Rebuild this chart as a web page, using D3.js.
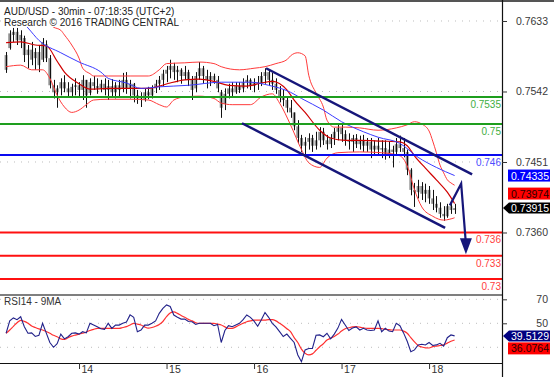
<!DOCTYPE html>
<html><head><meta charset="utf-8">
<script src="https://cdn.jsdelivr.net/npm/d3@7"></script>
<style>
body{margin:0;background:#fff;}
svg{display:block;font-family:"Liberation Sans",Arial,sans-serif;}
</style></head><body>
<svg id="c" width="554" height="377"></svg>
<script>
// ---------- DATA ----------
const title1 = "AUD/USD - 30min - 07:18:35 (UTC+2)";
const title2 = "Research \u00a9 2016 TRADING CENTRAL";
const rsiTitle = "RSI14 - 9MA";
const dayLabels = ["14","15","16","17","18"];
const dayStartIdx = [20,44,68,92,116];
const priceTicks = [0.7633, 0.7542, 0.7451, 0.7360];
const rsiTicks = [70, 50];
const rsiGrid = [70, 50, 30];

const open = [0.7570,0.7598,0.7615,0.7619,0.7608,0.7611,0.7589,0.7596,0.7585,0.7593,
0.7583,0.7603,0.7585,0.7550,0.7541,0.7546,0.7554,0.7546,0.7541,0.7548,
0.7550,0.7544,0.7557,0.7540,0.7554,0.7549,0.7546,0.7552,0.7544,0.7549,
0.7541,0.7550,0.7546,0.7557,0.7546,0.7552,0.7537,0.7533,0.7531,0.7541,
0.7537,0.7546,0.7552,0.7557,0.7565,0.7570,0.7575,0.7567,0.7570,0.7562,
0.7567,0.7557,0.7546,0.7562,0.7572,0.7562,0.7557,0.7562,0.7557,0.7541,
0.7526,0.7539,0.7546,0.7541,0.7549,0.7546,0.7554,0.7557,0.7549,0.7554,
0.7552,0.7562,0.7567,0.7557,0.7552,0.7544,0.7536,0.7531,0.7521,0.7515,
0.7497,0.7482,0.7472,0.7477,0.7482,0.7472,0.7479,0.7490,0.7479,0.7474,
0.7482,0.7490,0.7495,0.7487,0.7479,0.7477,0.7482,0.7474,0.7479,0.7472,
0.7477,0.7467,0.7472,0.7467,0.7469,0.7461,0.7467,0.7464,0.7474,0.7469,
0.7464,0.7441,0.7415,0.7412,0.7420,0.7410,0.7415,0.7404,0.7397,0.7392,
0.7384,0.7381,0.7394,0.7389];
const high = [0.7593,0.7621,0.7624,0.7624,0.7621,0.7614,0.7602,0.7606,0.7598,0.7602,
0.7611,0.7608,0.7589,0.7557,0.7550,0.7559,0.7563,0.7554,0.7552,0.7559,
0.7554,0.7563,0.7557,0.7559,0.7562,0.7559,0.7557,0.7559,0.7557,0.7558,
0.7554,0.7557,0.7566,0.7567,0.7557,0.7553,0.7544,0.7541,0.7546,0.7548,
0.7550,0.7557,0.7562,0.7570,0.7575,0.7583,0.7579,0.7575,0.7572,0.7575,
0.7570,0.7562,0.7567,0.7580,0.7575,0.7570,0.7567,0.7565,0.7562,0.7544,
0.7546,0.7552,0.7554,0.7554,0.7554,0.7559,0.7563,0.7559,0.7559,0.7562,
0.7567,0.7572,0.7570,0.7566,0.7559,0.7549,0.7544,0.7536,0.7531,0.7515,
0.7505,0.7486,0.7483,0.7488,0.7486,0.7490,0.7496,0.7495,0.7486,0.7487,
0.7495,0.7500,0.7499,0.7492,0.7488,0.7486,0.7487,0.7485,0.7486,0.7482,
0.7482,0.7479,0.7482,0.7479,0.7479,0.7477,0.7472,0.7482,0.7485,0.7482,
0.7467,0.7443,0.7424,0.7428,0.7425,0.7423,0.7420,0.7415,0.7407,0.7399,
0.7394,0.7397,0.7399,0.7397];
const low = [0.7566,0.7596,0.7606,0.7602,0.7598,0.7580,0.7572,0.7576,0.7570,0.7567,
0.7580,0.7580,0.7546,0.7533,0.7521,0.7537,0.7541,0.7536,0.7535,0.7537,
0.7535,0.7531,0.7521,0.7537,0.7544,0.7539,0.7541,0.7537,0.7531,0.7535,
0.7533,0.7536,0.7541,0.7539,0.7533,0.7528,0.7526,0.7522,0.7529,0.7532,
0.7533,0.7540,0.7544,0.7549,0.7554,0.7559,0.7557,0.7554,0.7552,0.7557,
0.7549,0.7531,0.7541,0.7557,0.7552,0.7546,0.7549,0.7552,0.7541,0.7508,
0.7518,0.7533,0.7536,0.7539,0.7540,0.7541,0.7546,0.7544,0.7541,0.7544,
0.7549,0.7552,0.7549,0.7544,0.7539,0.7528,0.7523,0.7515,0.7508,0.7492,
0.7475,0.7464,0.7460,0.7467,0.7464,0.7467,0.7470,0.7473,0.7467,0.7469,
0.7473,0.7479,0.7477,0.7472,0.7467,0.7464,0.7469,0.7467,0.7464,0.7464,
0.7456,0.7459,0.7460,0.7456,0.7454,0.7456,0.7444,0.7460,0.7464,0.7457,
0.7434,0.7408,0.7393,0.7404,0.7402,0.7399,0.7397,0.7389,0.7386,0.7379,
0.7375,0.7379,0.7384,0.7384];
const close = [0.7589,0.7617,0.7619,0.7608,0.7615,0.7589,0.7596,0.7583,0.7593,0.7576,
0.7606,0.7585,0.7550,0.7541,0.7546,0.7554,0.7546,0.7541,0.7548,0.7550,
0.7544,0.7557,0.7537,0.7554,0.7549,0.7546,0.7552,0.7544,0.7549,0.7541,
0.7550,0.7544,0.7557,0.7546,0.7552,0.7537,0.7533,0.7531,0.7541,0.7537,
0.7546,0.7552,0.7557,0.7565,0.7570,0.7575,0.7567,0.7570,0.7562,0.7567,
0.7557,0.7544,0.7562,0.7572,0.7562,0.7557,0.7562,0.7557,0.7546,0.7521,
0.7539,0.7546,0.7541,0.7549,0.7544,0.7554,0.7557,0.7549,0.7554,0.7552,
0.7562,0.7567,0.7557,0.7552,0.7544,0.7536,0.7531,0.7521,0.7515,0.7497,
0.7482,0.7472,0.7477,0.7482,0.7472,0.7479,0.7490,0.7479,0.7474,0.7482,
0.7490,0.7495,0.7487,0.7479,0.7477,0.7482,0.7474,0.7479,0.7472,0.7477,
0.7467,0.7472,0.7467,0.7469,0.7461,0.7467,0.7464,0.7474,0.7469,0.7464,
0.7441,0.7415,0.7412,0.7420,0.7410,0.7415,0.7404,0.7397,0.7392,0.7384,
0.7381,0.7394,0.7389,0.73915];

// [bar index, price]
const maLine = [[4,0.7634],[6,0.7624],[9,0.7608],[15,0.7592],[20,0.7580],[26,0.7567],[28,0.7559],[33,0.7553],[37,0.7546],[42,0.7548],[50,0.7550],[59,0.7554],[67,0.7554],[72,0.7550],[78,0.7541],[81,0.7533],[87,0.7518],[92,0.7503],[98,0.7490],[102,0.7483],[108,0.7475],[113,0.7457],[118,0.7444],[123,0.74335]];
const bbUpper = [[0,0.7634],[4,0.7636],[8,0.7634],[11,0.7632],[13,0.7625],[15,0.7621],[16,0.7615],[18,0.7602],[20,0.7585],[21,0.7572],[23,0.7565],[24,0.7562],[28,0.7562],[34,0.7562],[39,0.7562],[42,0.7570],[44,0.7578],[49,0.7579],[53,0.7580],[57,0.7578],[59,0.7574],[64,0.7570],[68,0.7572],[71,0.7574],[74,0.7578],[77,0.7583],[78,0.7588],[80,0.7592],[82,0.7588],[83,0.7563],[85,0.7540],[87,0.7522],[88,0.7505],[90,0.7496],[93,0.7496],[97,0.7495],[102,0.7492],[107,0.7495],[110,0.7499],[112,0.7503],[114,0.7500],[116,0.7491],[117,0.7478],[118,0.7463],[119,0.7447],[120,0.7437],[121,0.7428],[122,0.7424],[123,0.7421]];
const bbMiddle = [[0,0.7605],[4,0.7606],[8,0.7602],[11,0.7601],[14,0.7581],[16,0.7567],[20,0.7552],[23,0.7545],[28,0.7546],[34,0.7546],[39,0.7546],[42,0.7549],[45,0.7553],[49,0.7557],[53,0.7558],[57,0.7555],[61,0.7550],[66,0.7549],[70,0.7553],[73,0.7555],[77,0.7544],[79,0.7531],[82,0.7515],[86,0.7492],[89,0.7482],[93,0.7479],[97,0.7479],[103,0.7478],[108,0.7477],[110,0.7472],[112,0.7459],[115,0.7443],[118,0.7428],[121,0.7412],[123,0.73974]];
const bbLower = [[0,0.7574],[4,0.7576],[7,0.7570],[10,0.7570],[12,0.7559],[14,0.7537],[16,0.7522],[18,0.7515],[20,0.7518],[22,0.7525],[24,0.7531],[28,0.7532],[34,0.7532],[39,0.7531],[42,0.7525],[44,0.7522],[46,0.7531],[49,0.7535],[53,0.7536],[57,0.7533],[59,0.7527],[62,0.7525],[67,0.7525],[70,0.7535],[73,0.7539],[75,0.7527],[78,0.7499],[81,0.7467],[83,0.7450],[86,0.7444],[88,0.7456],[91,0.7463],[97,0.7464],[103,0.7463],[108,0.7459],[110,0.7446],[112,0.7415],[114,0.7393],[117,0.7381],[120,0.7376],[123,0.7379]];

const levelValues = [0.7535, 0.75, 0.746, 0.736, 0.733, 0.73];
const levelLabels = ["0.7535","0.75","0.746","0.736","0.733","0.73"];
const levelKinds = ["res","res","pivot","sup","sup","sup"];

const channelUpper = [[71.3,0.7572],[127.8,0.7435]];
const channelLower = [[64.7,0.7501],[120.4,0.7366]];
const arrowPath = [[121.7,0.7395],[124.8,0.7423],[126.1,0.7332]];

const rsi = [41.7,52,54.5,53,55.5,47.2,41.7,42,39,40,
50,42,34,30,33,41,37,38.8,41.7,42,
41,43,42,50,48.6,47.2,45.5,45,50,45.8,
48.6,48.5,50,51,57,55,43,44.4,48.5,48.5,
50,52,58.3,62.5,65.3,64,56.9,55,53.5,53.5,
51.5,51.3,49,50,50,50,50,48,49,34,
44,48,47.2,48.6,50,53,56.9,55,51.8,47.5,
53,59,55,50,47,43,39,41,37.5,34,
23.6,18,27.8,29,29,40,40.3,38.8,41.7,37,
41,46,53.3,48.6,44,46,47,44.4,45.8,44.4,
44,44.4,52,43,45.8,43.5,43,50,48,42,
35,26.3,27.8,32,32.5,31.9,34,31.5,32,33.3,
31,38,40.3,39.5129];
const rsiMa = [41.7,44.4,47.5,50.5,52.5,51.6,50,47.8,46.5,45.3,
44.4,43.2,41.7,40,38.8,37,36.5,38,39.3,40.2,
41,41.7,42.8,44,45,45.8,45.8,45.8,45.8,45.8,
45.8,45.8,46.5,47.2,48.6,50,49.3,48.6,47,46,
46.5,47.5,49,51.5,55.5,58.5,59.5,58.3,56.5,55,
53.3,52,50.5,50,50,50,50,50,49.3,48.6,
47,45.8,45.8,47,48.6,50,51.3,52,52.7,52.7,
52.7,52.7,53,53,52,50,48,45.5,43,38,
34,28.5,25,23.6,24.5,27.5,30.5,33,36,37.5,
39,41,43.5,45.5,46.3,47,47.2,46.8,46.2,45.8,
45.8,45.8,45.8,45.5,45,44.7,44.4,44.4,44.4,43.5,
41.7,38,34.5,31.5,30.2,29.5,29.4,30.5,31,31.5,
32,33.5,35,36.0764];

// ---------- LAYOUT ----------
const svg = d3.select("#c");
const AX = 502;
const mainTop = 1, mainBot = 293, rsiTop = 295, rsiBot = 363;
const xS = d3.scaleLinear().domain([-1.673, 136.0]).range([0, AX]);
const yS = d3.scaleLinear().domain([0.72819, 0.76588]).range([mainBot, mainTop]);
const rS = d3.scaleLinear().domain([16.9, 73.6]).range([rsiBot, rsiTop]);
const FONT = "Liberation Sans, Arial, sans-serif";

const defs = svg.append("defs");
defs.append("clipPath").attr("id","cm").append("rect").attr("x",0).attr("y",mainTop).attr("width",AX).attr("height",mainBot-mainTop);
defs.append("clipPath").attr("id","cr").append("rect").attr("x",0).attr("y",rsiTop).attr("width",AX).attr("height",rsiBot-rsiTop);

const main = svg.append("g").attr("clip-path","url(#cm)");
const rsiG = svg.append("g").attr("clip-path","url(#cr)");

// gridlines
main.selectAll("line.grid").data(priceTicks).enter().append("line")
  .attr("x1",0).attr("x2",AX).attr("y1",d=>yS(d)).attr("y2",d=>yS(d))
  .attr("stroke","#bdbdbd").attr("stroke-dasharray","1,6");
rsiG.selectAll("line.grid").data(rsiGrid).enter().append("line")
  .attr("x1",0).attr("x2",AX).attr("y1",d=>rS(d)).attr("y2",d=>rS(d))
  .attr("stroke","#bdbdbd").attr("stroke-dasharray","1,6");

// bars
const idx = d3.range(close.length);
main.selectAll("rect.body").data(idx).enter().append("rect")
  .attr("x",i=>xS(i)-1.5).attr("width",3)
  .attr("y",i=>yS(Math.max(open[i],close[i])))
  .attr("height",i=>Math.max(1,Math.abs(yS(open[i])-yS(close[i]))))
  .attr("fill","#8f8f8f");
main.selectAll("line.wick").data(idx).enter().append("line")
  .attr("x1",i=>Math.round(xS(i))+0.5).attr("x2",i=>Math.round(xS(i))+0.5)
  .attr("y1",i=>yS(high[i])).attr("y2",i=>yS(low[i]))
  .attr("stroke","#111").attr("stroke-width",1);

// indicators
const lineP = d3.line().x(d=>xS(d[0])).y(d=>yS(d[1])).curve(d3.curveMonotoneX);
main.append("path").attr("d",lineP(bbUpper)).attr("fill","none").attr("stroke","#ff3b3b").attr("stroke-width",1);
main.append("path").attr("d",lineP(bbLower)).attr("fill","none").attr("stroke","#ff3b3b").attr("stroke-width",1);
main.append("path").attr("d",lineP(bbMiddle)).attr("fill","none").attr("stroke","#d00000").attr("stroke-width",1.2);
main.append("path").attr("d",lineP(maLine)).attr("fill","none").attr("stroke","#3b3bff").attr("stroke-width",1);

// levels
const levelColor = {res:"#1e9e1e", pivot:"#0a0af0", sup:"#ff1010"};
const levelText = {res:"#3fae3f", pivot:"#4d4dff", sup:"#ff4040"};
main.selectAll("line.lvl").data(levelValues).enter().append("line")
  .attr("x1",0).attr("x2",AX).attr("y1",d=>yS(d)).attr("y2",d=>yS(d))
  .attr("stroke",(d,i)=>levelColor[levelKinds[i]]).attr("stroke-width",2);
main.selectAll("text.lvl").data(levelValues).enter().append("text")
  .attr("x",AX-1).attr("y",d=>yS(d)+11).attr("text-anchor","end")
  .attr("font-size",10).attr("fill",(d,i)=>levelText[levelKinds[i]])
  .text((d,i)=>levelLabels[i]);

// channel & arrow
const lineS = d3.line().x(d=>xS(d[0])).y(d=>yS(d[1]));
main.append("path").attr("d",lineS(channelUpper)).attr("stroke","#16167a").attr("stroke-width",2.5).attr("fill","none");
main.append("path").attr("d",lineS(channelLower)).attr("stroke","#16167a").attr("stroke-width",2.5).attr("fill","none");
const tip = arrowPath[arrowPath.length-1];
const tx = xS(tip[0]), ty = yS(tip[1]);
const shaft = arrowPath.map(d=>[xS(d[0]),yS(d[1])]);
shaft[shaft.length-1] = [tx-0.3, ty-14];
main.append("path").attr("d",d3.line()(shaft)).attr("stroke","#16167a").attr("stroke-width",2.2).attr("fill","none").attr("stroke-linejoin","miter");
main.append("path").attr("d",`M${tx-6},${ty-16}L${tx+6},${ty-16}L${tx},${ty}Z`).attr("fill","#16167a");

// RSI
rsiG.append("path").attr("d",d3.line().x((d,i)=>xS(i)).y(d=>rS(d)).curve(d3.curveMonotoneX)(rsiMa)).attr("fill","none").attr("stroke","#ff3030").attr("stroke-width",1.2);
rsiG.append("path").attr("d",d3.line().x((d,i)=>xS(i)).y(d=>rS(d))(rsi)).attr("fill","none").attr("stroke","#22228a").attr("stroke-width",1.1);

// header
svg.append("rect").attr("x",2).attr("y",2).attr("width",172).attr("height",25).attr("fill","#fff");
svg.append("text").attr("x",4).attr("y",15).attr("font-size",10).attr("fill","#222").text(title1);
svg.append("text").attr("x",4).attr("y",26).attr("font-size",10).attr("fill","#222").text(title2);
svg.append("rect").attr("x",2).attr("y",297).attr("width",60).attr("height",10).attr("fill","#fff");
svg.append("text").attr("x",4).attr("y",305).attr("font-size",10).attr("fill","#333").text(rsiTitle);

// frame lines
svg.append("line").attr("x1",0).attr("x2",554).attr("y1",1).attr("y2",1).attr("stroke","#555").attr("stroke-width",2);
svg.append("line").attr("x1",0).attr("x2",AX).attr("y1",rsiTop).attr("y2",rsiTop).attr("stroke","#555").attr("stroke-width",1.5);
svg.append("line").attr("x1",AX+0.5).attr("x2",AX+0.5).attr("y1",0).attr("y2",377).attr("stroke","#111").attr("stroke-width",1.2);

// axes
const yAx = svg.append("g").attr("transform",`translate(${AX},0)`)
  .call(d3.axisRight(yS).tickValues(priceTicks).tickSize(5).tickSizeOuter(0).tickFormat(d3.format(".4f")));
const rAx = svg.append("g").attr("transform",`translate(${AX},0)`)
  .call(d3.axisRight(rS).tickValues(rsiTicks).tickSize(5).tickSizeOuter(0).tickFormat(d3.format("d")));
[yAx,rAx].forEach(g=>{
  g.select(".domain").remove();
  g.selectAll("line").attr("stroke","#333");
  g.selectAll("text").attr("x",46).attr("text-anchor","end").attr("font-size",10.5)
    .attr("fill","#3a3a3a").attr("font-family",FONT);
});
const xAx = svg.append("g").attr("transform",`translate(0,${rsiBot})`)
  .call(d3.axisBottom(xS).tickValues(dayStartIdx).tickSize(6).tickSizeOuter(0).tickFormat((d,i)=>dayLabels[i]));
xAx.select(".domain").attr("d",`M0,0.5H${AX}`).attr("stroke","#111").attr("stroke-width",1.2);
xAx.selectAll("line").attr("stroke","#333");
xAx.selectAll("text").attr("x",2).attr("y",3).attr("text-anchor","start").attr("font-size",10.5)
  .attr("fill","#333").attr("font-family",FONT);

// value labels
function boxLabel(y, txt, fill, color, pointer){
  const g = svg.append("g");
  const h = 11, x0 = 509, x1 = 550;
  if(pointer){
    g.append("path").attr("d",`M${AX+1},${y}L${x0},${y-h/2}L${x1},${y-h/2}L${x1},${y+h/2}L${x0},${y+h/2}Z`).attr("fill",fill);
  } else {
    g.append("rect").attr("x",x0-1).attr("y",y-h/2-0.5).attr("width",x1-x0+1).attr("height",h+1).attr("fill",fill);
  }
  g.append("text").attr("x",x1-1).attr("y",y+4).attr("text-anchor","end").attr("font-size",10.5)
    .attr("fill",color).text(txt);
}
const maLast = maLine[maLine.length-1][1];
const midLast = bbMiddle[bbMiddle.length-1][1];
const lastClose = close[close.length-1];
const yLast = yS(lastClose);
let yMid = yS(midLast);
if (Math.abs(yMid - yLast) < 13) yMid = yLast - 14.5;
boxLabel(yS(maLast), d3.format(".5f")(maLast), "#0000ff", "#fff", false);
boxLabel(yMid, d3.format(".5f")(midLast), "#ff0000", "#2a0000", false);
boxLabel(yLast, d3.format(".5f")(lastClose), "#000", "#fff", true);
const rLast = rsi[rsi.length-1], rmLast = rsiMa[rsiMa.length-1];
const yR = rS(rLast);
let yRm = rS(rmLast);
if (Math.abs(yRm - yR) < 12) yRm = yR + 12.5;
boxLabel(yR, d3.format(".4f")(rLast), "#000080", "#fff", true);
boxLabel(yRm, d3.format(".4f")(rmLast), "#ff0000", "#2a0000", false);
</script>
</body></html>
